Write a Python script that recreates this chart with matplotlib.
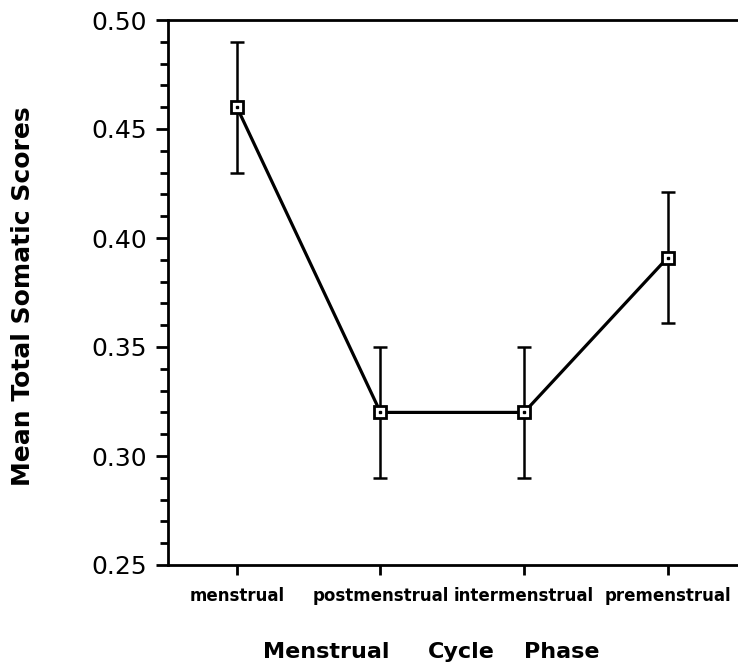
import matplotlib
matplotlib.use("Agg")
import matplotlib.pyplot as plt
from matplotlib.ticker import MultipleLocator

phases = ["menstrual", "postmenstrual", "intermenstrual", "premenstrual"]
means = [0.46, 0.32, 0.32, 0.391]
errors = [0.03, 0.03, 0.03, 0.03]
yticks = [0.25, 0.30, 0.35, 0.40, 0.45, 0.50]
xlabel_words = ["Menstrual", "Cycle", "Phase"]
ylabel = "Mean Total Somatic Scores"

fig = plt.figure(figsize=(7.38, 6.68), dpi=100)
ax = fig.add_axes([168/738, 1-565/668, 1-168/738, (565-20)/668])

x = list(range(len(phases)))
ax.errorbar(x, means, yerr=errors, fmt='none', ecolor='black', elinewidth=1.8,
            capsize=5, capthick=1.8, zorder=2)
ax.plot(x, means, color='black', linewidth=2.3, marker='s', markersize=8,
        markerfacecolor='white', markeredgecolor='black', markeredgewidth=2, zorder=3)
ax.plot(x, means, linestyle='none', marker='s', markersize=2, color='black', zorder=4)

ax.set_xlim(-0.48, 3.49)
ax.set_ylim(0.25, 0.50)
ax.set_yticks(yticks)
ax.set_yticklabels([f"{v:.2f}" for v in yticks])
ax.yaxis.set_minor_locator(MultipleLocator(0.01))
ax.set_xticks(x)
ax.set_xticklabels(phases, fontsize=12, fontweight='bold')

for s in ['left', 'top', 'bottom']:
    ax.spines[s].set_linewidth(2)
ax.spines['right'].set_visible(False)

ax.tick_params(axis='y', which='major', direction='out', length=9, width=2,
               labelsize=18, pad=6)
ax.tick_params(axis='y', which='minor', direction='out', length=6, width=2)
ax.tick_params(axis='x', which='major', direction='out', length=7, width=2, pad=9)

word_x = [326, 461, 562]
for wx, w in zip(word_x, xlabel_words):
    fig.text(wx/738, 1-652/668, w, fontsize=16, fontweight='bold',
             ha='center', va='center')
fig.text(23/738, 1-296/668, ylabel, fontsize=18,
         fontweight='heavy', rotation=90, ha='center', va='center')

fig.savefig("out.png", dpi=100)
